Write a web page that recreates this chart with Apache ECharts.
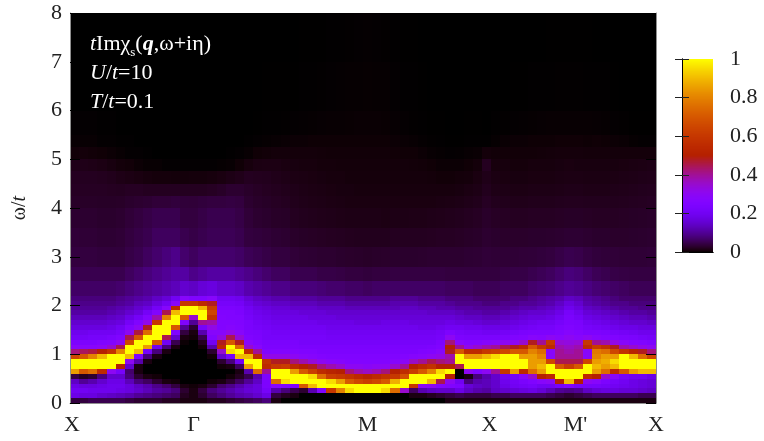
<!DOCTYPE html>
<html><head><meta charset="utf-8">
<style>html,body{margin:0;background:#fff}#c{width:764px;height:441px}</style>
<script src="https://cdn.jsdelivr.net/npm/echarts@6/dist/echarts.min.js"></script></head>
<body><div id="c"></div><script>
const omegaEdges=[0,.1,.2,.3,.4,.5,.6,.7,.8,.9,1,1.1,1.2,1.3,1.4,1.5,1.6,1.7,1.8,1.9,2,2.1,2.2,2.5,2.8,3.2,3.6,4,4.25,4.5,4.75,5,5.25,5.5,6,7,8];
const tickLabels=['X','Γ','M','X',"M'",'X'];
const tickPositions=[0.2,13.5,32.5,45.8,55.2,64];
const barTicks=[0,0.2,0.4,0.6,0.8,1];
const c00=[4,18,20,18,14,4,85,100,100,65,42,28,24,21,19,17,15,13,11,10,9,8,6.5,5,4,3.5,3,2.5,2.2,2,1.5,.5,.2,.1,0,0];
const c01=[4,17,20,17,10,2,70,100,100,70,44,28,24,21,19,17,15,13,11,10,9,8,6.5,5,4,3.4,3,2.5,2.2,2,1.5,.6,.2,.1,0,0];
const c02=[5,17,19,17,12,3,75,100,100,80,46,28,24,22,20,17,15,13,11,10,9,8,6.5,5,4,3.4,3,2.5,2.2,2,1.4,.5,.2,.1,0,0];
const c03=[5,15,19,18,15,8,55,100,100,90,50,30,25,22,20,17,15,13,11,10,9,8,6.5,5,3.8,3.2,2.8,2.4,2.2,1.9,1.2,.4,.1,.05,0,0];
const c04=[5,14,19,19,18,15,30,100,100,100,58,35,26,23,20,18,16,14,12,11,9,8,6.5,5,3.8,3.2,2.8,2.4,2.1,1.7,.9,.3,.1,.05,0,0];
const c05=[5,13,18,19,18,15,22,50,100,100,80,45,30,25,22,20,17,15,13,12,10,9,7,5,3.8,3.4,3,2.5,2,1.4,.6,.2,.05,0,0,0];
const c06=[4,12,17,17,13,8,7,15,30,90,100,100,65,45,30,25,21,18,15,13,11,10,8,6,4.5,4,3.5,2.8,2.2,1.2,.5,.1,.05,0,0,0];
const c07=[3,10,15,14,8,3,1,1,12,25,90,100,100,70,46,30,25,21,17,15,13,11,9,7,5,4.5,4,3,2.2,1,.3,.1,0,0,0,0];
const c08=[3,9,13,12,6,1,0,0,1,8,22,85,100,100,75,48,32,26,21,17,14,12,10,8,6,5,4.5,3.2,2,.8,.2,.05,0,0,0,0];
const c09=[3,8,11,9,3,.5,0,0,0,1,8,20,70,100,100,100,60,38,26,21,17,14,11,9,7,6,5,3.5,2,.7,.2,0,0,0,0,0];
const c10=[2,7,10,7,1,0,0,0,0,0,1,8,20,45,100,100,100,80,45,28,20,16,12,10,8,6,5,3.5,2,.7,.1,0,0,0,0,0];
const c11=[2,6,8,4,.5,0,0,0,0,0,0,1,5,15,25,70,100,100,90,55,28,20,13,11,9,6,5,3.8,2,.6,.1,0,0,0,0,0];
const c12=[1,2,3,1,0,0,0,0,0,0,0,0,.3,1,4,10,25,70,100,100,60,28,15,11,7,5,4,3.6,2,.6,.1,0,0,0,0,0];
const c13=[1,1,1,.5,0,0,0,0,0,0,0,0,0,.5,1,3,10,35,100,100,60,25,14,9,6,4.5,4,3.5,2,.7,.1,0,0,0,0,0];
const c14=[1,3,4,1,0,0,0,0,0,0,0,.5,2,5,12,22,40,100,100,90,55,25,16,10,7,5,4.5,3.8,2,.7,.1,0,0,0,0,0];
const c15=[2,6,8,3,.5,0,0,0,0,.5,3,12,20,25,28,32,38,58,65,62,48,28,17,11,7,5.5,5,4,2.2,.8,.1,0,0,0,0,0];
const c16=[2,8,10,7,1,0,0,.5,3,15,35,55,48,33,28,26,26,26,25,24,22,20,15,11,7,5.5,5,4,2.5,1,.15,0,0,0,0,0];
const c17=[3,10,12,9,3,.5,0,1,8,22,95,100,70,45,32,27,26,25,25,24,22,20,15,11,7,5.5,5,4.2,3,1.3,.2,.05,0,0,0,0];
const c18=[4,12,14,12,6,2,1,6,20,90,100,75,48,34,28,26,25,25,24,23,21,19,14,10,6.5,5,4.5,4,3,1.6,.4,.1,0,0,0,0];
const c19=[5,13,16,15,10,5,12,85,100,90,55,35,28,25,24,23,23,22,21,20,18,16,12,9,5.5,4,3.5,3,2.6,2,.8,.2,.05,0,0,0];
const c20=[6,15,17,17,14,12,75,100,100,55,40,28,25,24,23,22,21,20,19,18,16,14,11,8,5,3.8,3,2.6,2.3,1.9,1.1,.4,.1,.02,0,0];
const c21=[8,18,22,24,24,24,40,55,58,32,25,24,23,22,22,21,20,19,18,17,15,13,10,7,4.5,3.5,2.8,2.4,2.1,1.8,1.2,.5,.15,.05,.02,0];
const c22=[1,4,12,28,75,100,100,60,48,32,26,24,23,22,21,20,19,18,17,16,14,12,9,6,4,3.2,2.5,2.2,1.9,1.6,1.2,.6,.2,.05,.02,0];
const c23=[0,2,8,25,95,100,100,62,48,32,26,24,23,22,21,20,19,18,17,16,14,12,9,6,4,3,2.4,2,1.7,1.4,1,.6,.25,.08,.02,0];
const c24=[0,1,5,25,100,100,85,55,42,30,26,24,23,22,21,20,19,18,17,15,13,11,8,5,3.5,2.6,2,1.7,1.5,1.2,.9,.6,.3,.1,.03,.01];
const c25=[0,0,3,70,100,100,70,50,38,28,25,23,22,22,21,20,19,18,16,15,13,11,8,5,3.3,2.4,1.8,1.5,1.3,1.1,.8,.6,.3,.12,.05,.02];
const c26=[0,0,12,90,100,95,62,48,34,27,25,23,22,22,21,20,19,17,16,15,13,11,8,5,3.2,2.3,1.7,1.4,1.2,1,.8,.6,.35,.15,.06,.02];
const c27=[0,0,25,100,100,75,55,42,30,26,24,23,22,22,21,20,18,17,16,14,12,10,7.5,4.5,3,2.2,1.6,1.3,1.1,.9,.7,.55,.35,.18,.08,.03];
const c28=[0,0,60,100,95,62,52,38,28,25,24,23,22,21,20,19,18,17,15,14,12,10,7,4.5,3,2.1,1.5,1.2,1,.8,.7,.5,.35,.2,.1,.05];
const c29=[0,0,80,100,85,60,50,35,27,25,24,23,22,21,20,19,18,16,15,14,12,10,7,4.3,2.8,2,1.4,1.1,.9,.8,.6,.5,.35,.2,.12,.06];
const c30=[0,0,95,100,70,58,42,30,26,25,24,23,22,21,20,19,18,16,15,13,11,9,6.5,4,2.7,1.9,1.3,1,.9,.7,.6,.5,.35,.22,.14,.08];
const c31=[0,0,100,100,65,55,38,30,26,25,24,23,22,21,20,19,17,16,15,13,11,9,6.5,4,2.6,1.8,1.3,1,.8,.7,.6,.5,.35,.25,.15,.1];
const c32=[0,0,100,100,62,52,36,29,26,25,24,23,22,21,20,19,17,16,15,13,11,9,6,3.8,2.5,1.8,1.3,1,.8,.7,.6,.5,.35,.25,.16,.12];
const c33=[0,0,100,100,65,55,38,30,26,25,24,23,22,21,20,19,17,16,15,13,11,9,6.5,4,2.6,1.8,1.3,1,.8,.7,.6,.5,.35,.25,.15,.1];
const c34=[0,0,95,100,70,58,42,30,26,25,24,23,22,21,20,19,18,16,15,13,11,9,6.5,4,2.7,1.8,1.2,1,.8,.7,.6,.5,.35,.22,.14,.08];
const c35=[0,0,75,100,88,60,50,35,27,25,24,23,22,21,20,19,18,16,15,13,12,10,6.5,4.2,2.8,2,1.3,1,.8,.7,.6,.45,.3,.18,.1,.05];
const c36=[0,0,35,100,100,68,56,40,29,26,24,23,22,21,20,19,18,16,15,14,12,10,6.5,4.2,2.8,2,1.3,1,.8,.7,.6,.4,.25,.12,.06,.03];
const c37=[0,1,6,60,100,100,62,50,36,27,24,23,22,21,20,19,17,16,15,14,12,10,6.5,4.2,2.8,2,1.4,1,.8,.7,.55,.4,.2,.08,.04,.02];
const c38=[0,1,12,30,100,100,70,55,40,28,25,23,22,21,20,18,17,16,15,13,11,9,6.5,4.2,2.9,2,1.4,1,.8,.65,.5,.3,.12,.05,.02,.01];
const c39=[0,2,14,30,90,100,80,58,45,30,26,24,22,21,20,18,17,16,14,13,11,9,6.5,4.2,3,2.1,1.5,1,.8,.6,.4,.2,.08,.03,.01,0];
const c40=[0,3,15,26,45,100,95,50,42,32,28,25,24,22,21,19,17,16,14,12,11,9,6.5,4.2,3,2.2,1.6,1.1,.8,.5,.3,.15,.05,.02,0,0];
const c41=[1,4,15,25,30,50,100,50,40,38,48,50,42,30,24,20,18,16,14,12,10,8,6,4,3,2.2,1.7,1.2,.8,.5,.3,.1,.03,.01,0,0];
const c42=[1,5,18,24,20,0,0,45,100,100,70,40,28,24,22,20,17,15,13,11,9,8,6,4,3,2.3,1.8,1.3,.9,.6,.3,.12,.03,.01,0,0];
const c43=[1,4,14,16,8,1,30,100,100,85,55,32,26,23,21,19,17,14,12,11,9,8,6,4,3.2,2.5,2,1.5,1.1,.7,.4,.2,.05,.02,0,0];
const c44=[1,4,12,14,12,8,25,100,100,85,55,35,26,23,21,19,16,14,12,10,9,7,5.5,4,3.3,2.6,2.2,1.7,1.3,1,.6,.25,.06,.02,0,0];
const c45=[1,4,11,13,13,12,30,100,100,90,60,38,27,23,20,18,15,13,11,10,8,7,5.5,4,3.5,3,2.6,2.2,1.8,1.5,2,.6,.05,.01,0,0];
const c46=[1,5,14,15,15,15,40,100,100,95,62,40,28,23,20,18,15,13,11,10,8,7,5.5,4,3.4,2.8,2.3,1.8,1.4,1.1,.8,.5,.15,.04,0,0];
const c47=[1,5,15,18,19,20,60,100,100,100,65,45,30,24,21,18,16,14,12,10,9,7,6,4.3,3.4,2.7,2.2,1.7,1.3,1,.8,.5,.25,.07,.01,0];
const c48=[1,6,16,20,21,22,85,100,100,100,70,48,30,25,22,19,17,15,13,11,9,8,6,4.5,3.4,2.7,2.1,1.6,1.2,.9,.7,.5,.3,.1,.02,0];
const c49=[1,6,17,21,23,28,55,100,100,85,70,55,35,26,23,20,18,16,14,12,10,8,6,4.5,3.5,2.7,2.1,1.6,1.2,.9,.7,.5,.3,.12,.03,0];
const c50=[1,6,18,22,25,35,75,85,85,85,80,70,48,28,24,21,19,17,15,12,10,9,7,5,3.6,2.8,2.2,1.7,1.3,1,.8,.5,.35,.15,.04,.01];
const c51=[1,6,16,20,28,50,85,90,85,80,75,60,40,27,24,22,20,17,15,13,11,10,7.5,5.5,3.8,2.8,2.2,1.7,1.3,1,.8,.55,.35,.18,.05,.01];
const c52=[1,5,13,20,30,55,100,100,65,28,28,55,60,30,24,22,20,18,16,14,12,11,8,6,4,2.9,2.2,1.7,1.3,1,.8,.6,.35,.2,.06,.02];
const c53=[1,4,10,22,50,100,100,70,45,40,40,38,34,28,25,24,22,20,18,16,14,12,9,7,4.5,3,2.3,1.8,1.4,1.1,.9,.65,.4,.2,.08,.02];
const c54=[1,3,9,25,90,100,100,62,45,40,38,36,33,30,27,25,24,23,22,19,17,14,10,8,5,3.2,2.4,1.9,1.5,1.2,1,.7,.4,.2,.08,.03];
const c55=[1,4,10,22,50,100,100,70,45,40,40,38,34,28,26,24,23,21,19,17,15,13,9.5,7.5,4.8,3.2,2.4,1.9,1.5,1.2,.9,.7,.4,.2,.08,.02];
const c56=[1,5,14,22,30,55,100,100,65,28,28,55,60,30,24,22,20,18,16,14,12,11,8.5,6.5,4.2,3,2.3,1.8,1.4,1.1,.9,.6,.35,.2,.06,.02];
const c57=[1,6,16,22,28,50,85,90,85,80,78,62,40,27,24,21,19,17,15,13,11,10,7.5,5.5,3.8,2.8,2.2,1.8,1.4,1.1,.9,.6,.4,.18,.05,.01];
const c58=[1,6,17,21,24,35,75,85,88,85,75,58,38,26,23,20,18,16,14,12,10,9,7,5,3.6,2.8,2.2,1.8,1.4,1.1,.9,.6,.35,.15,.04,.01];
const c59=[1,6,17,20,22,28,55,90,95,85,65,48,32,25,22,19,17,15,13,11,9,8,6.5,4.5,3.5,2.7,2.2,1.8,1.5,1.2,.9,.6,.3,.1,.02,0];
const c60=[1,6,16,19,20,22,70,100,100,100,58,38,28,24,21,18,16,14,12,10,9,7,6,4.3,3.4,2.7,2.3,1.9,1.6,1.3,1,.6,.25,.07,.01,0];
const c61=[1,6,16,18,18,20,85,100,100,90,52,35,26,23,20,18,15,13,11,10,8,7,5.5,4.2,3.4,2.8,2.4,2,1.7,1.4,1.1,.6,.15,.03,0,0];
const c62=[1,5,15,17,17,20,90,100,100,75,48,32,25,22,19,17,15,13,11,9,8,7,5.5,4.2,3.4,2.9,2.5,2.1,1.8,1.5,1.2,.6,.1,.02,0,0];
const c63=[1,5,14,16,16,18,90,100,100,65,42,30,24,21,19,17,14,12,10,9,8,7,5.5,4.2,3.5,3,2.6,2.2,1.9,1.6,1.3,.6,.1,.02,0,0];
const columns=[c00,c01,c02,c03,c04,c05,c06,c07,c08,c09,c10,c11,c12,c13,c14,c15,c16,c17,c18,c19,c20,c21,c22,c23,c24,c25,c26,c27,c28,c29,c30,c31,c32,c33,c34,c35,c36,c37,c38,c39,c40,c41,c42,c43,c44,c45,c46,c47,c48,c49,c50,c51,c52,c53,c54,c55,c56,c57,c58,c59,c60,c61,c62,c63];

const cells=[];
columns.forEach((col,i)=>col.forEach((v,j)=>cells.push([i,i+1,omegaEdges[j],omegaEdges[j+1],v/100])));
const barCells=[];
for(let k=0;k<193;k++)barCells.push([0,1,k/193,(k+1)/193,(k+.5)/193]);
// gnuplot default palette: rgbformulae 7,5,15
const palette=[];
for(let k=0;k<=255;k++){const x=k/255;
  palette.push(`rgb(${Math.round(255*Math.sqrt(x))},${Math.round(255*x*x*x)},${Math.round(255*Math.max(0,Math.sin(2*Math.PI*x)))})`);}
function cell(params,api){
  const a=api.coord([api.value(0),api.value(2)]),b=api.coord([api.value(1),api.value(3)]);
  const x0=Math.round(a[0]),x1=Math.round(b[0]),y0=Math.round(a[1]),y1=Math.round(b[1]);
  return {type:'rect',shape:{x:x0,y:y1,width:x1-x0,height:y0-y1},style:{fill:api.visual('color')}};
}
const serif='"Liberation Serif","Times New Roman",serif';
const gray='#8f8f8f';
const enc={x:[0,1],y:[2,3]};
const chart=echarts.init(document.getElementById('c'),null,{renderer:'canvas'});
chart.setOption({
  animation:false,backgroundColor:'#fff',
  grid:[{left:70,top:13,width:586,height:390},{left:682,top:59,width:31,height:193}],
  visualMap:{show:false,type:'continuous',min:0,max:1,dimension:4,seriesIndex:[0,1],inRange:{color:palette}},
  xAxis:[
    {type:'value',gridIndex:0,min:0,max:64,z:5,splitLine:{show:false},axisLine:{lineStyle:{color:gray,width:1}},axisTick:{show:false},
     axisLabel:{customValues:tickPositions,formatter:(v)=>tickLabels[tickPositions.indexOf(v)],color:'#222',fontFamily:serif,fontSize:22,margin:11}},
    {type:'value',gridIndex:1,min:0,max:1,z:5,position:'bottom',splitLine:{show:false},axisLine:{lineStyle:{color:'#000'}},axisTick:{show:false},axisLabel:{show:false}},
    {type:'value',gridIndex:1,min:0,max:1,z:5,position:'top',splitLine:{show:false},axisLine:{lineStyle:{color:'#000'}},axisTick:{show:false},axisLabel:{show:false}}
  ],
  yAxis:[
    {type:'value',gridIndex:0,min:0,max:8,interval:1,z:5,position:'left',splitLine:{show:false},
     axisLine:{show:true,lineStyle:{color:gray,width:1}},axisTick:{show:true,inside:true,length:10,lineStyle:{color:'#000'}},
     axisLabel:{color:'#222',fontFamily:serif,fontSize:22,margin:8},
     name:'{w|ω/}{i|t}',nameLocation:'middle',nameGap:40,nameRotate:90,
     nameTextStyle:{rich:{w:{fontFamily:serif,fontSize:20,color:'#222'},i:{fontFamily:serif,fontSize:20,fontStyle:'italic',color:'#222'}}}},
    {type:'value',gridIndex:0,min:0,max:8,interval:1,z:5,position:'right',splitLine:{show:false},
     axisLine:{show:true,lineStyle:{color:gray,width:1}},axisTick:{show:true,inside:true,length:10,lineStyle:{color:'#000'}},axisLabel:{show:false}},
    {type:'value',gridIndex:1,min:0,max:1,interval:.2,z:5,position:'left',splitLine:{show:false},
     axisLine:{show:true,lineStyle:{color:'#000'}},axisTick:{show:true,inside:true,length:7,lineStyle:{color:'#222'}},axisLabel:{show:false}},
    {type:'value',gridIndex:1,min:0,max:1,interval:.2,z:5,position:'right',splitLine:{show:false},
     axisLine:{show:true,lineStyle:{color:'#000'}},axisTick:{show:true,inside:true,length:7,lineStyle:{color:'#222'}},
     axisLabel:{customValues:barTicks,color:'#222',fontFamily:serif,fontSize:22,margin:17,formatter:(v)=>String(+v.toFixed(1))}}
  ],
  series:[
    {type:'custom',xAxisIndex:0,yAxisIndex:0,data:cells,encode:enc,renderItem:cell,progressive:0,silent:true,clip:true},
    {type:'custom',xAxisIndex:1,yAxisIndex:2,data:barCells,encode:enc,renderItem:cell,progressive:0,silent:true,clip:true}
  ],
  graphic:[{type:'text',left:90,top:30,z:10,silent:true,style:{
    text:'{i|t}{n|Imχ}{sub|s}{n|(}{bq|q}{n|,ω+iη)}\n{i|U}{n|/}{i|t}{n|=10}\n{i|T}{n|/}{i|t}{n|=0.1}',
    fill:'#fff',lineHeight:29,
    rich:{
      n:{fontFamily:serif,fontSize:22,fill:'#fff',lineHeight:29},
      i:{fontFamily:serif,fontSize:22,fontStyle:'italic',fill:'#fff',lineHeight:29},
      bq:{fontFamily:serif,fontSize:22,fontStyle:'italic',fontWeight:'bold',fill:'#fff',lineHeight:29},
      sub:{fontFamily:serif,fontSize:13,fill:'#fff',verticalAlign:'bottom',padding:[8,0,0,0],lineHeight:29}
    }}}]
});
</script></body></html>
